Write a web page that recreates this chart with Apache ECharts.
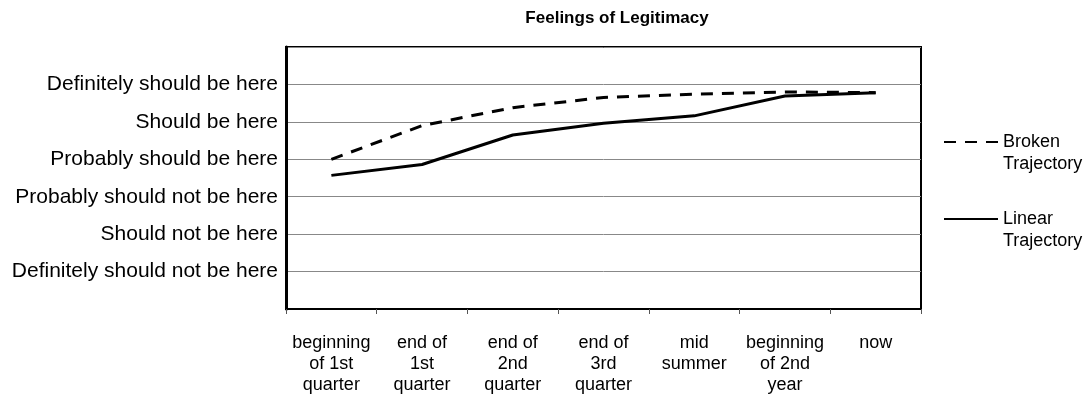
<!DOCTYPE html>
<html>
<head>
<meta charset="utf-8">
<script src="https://cdn.jsdelivr.net/npm/echarts@6/dist/echarts.min.js"></script>
<style>
  html, body { margin: 0; padding: 0; background: #fff; }
  #main { width: 1092px; height: 404px; }
</style>
</head>
<body>
<div id="main"></div>
<script>
// 类目（时间点）
var categories = ['beginning\nof 1st\nquarter', 'end of\n1st\nquarter', 'end of\n2nd\nquarter',
  'end of\n3rd\nquarter', 'mid\nsummer', 'beginning\nof 2nd\nyear', 'now'];
// y 轴刻度文字（1..6）
var levelLabels = ['', 'Definitely should not be here', 'Should not be here', 'Probably should not be here',
  'Probably should be here', 'Should be here', 'Definitely should be here', ''];
// 两条曲线的数据
var brokenValues = [4.0, 4.9, 5.38, 5.65, 5.74, 5.8, 5.78];
var linearValues = [3.57, 3.86, 4.65, 4.96, 5.16, 5.69, 5.78];

var chart = echarts.init(document.getElementById('main'), null, { renderer: 'canvas' });
var font = 'Liberation Sans, Arial, sans-serif';

var option = {
  backgroundColor: '#fff',
  animation: false,
  title: {
    text: 'Feelings of Legitimacy',
    left: 612,
    textAlign: 'center',
    top: 5,
    textStyle: { fontFamily: font, fontSize: 17, fontWeight: 'bold', color: '#000' }
  },
  legend: {
    orient: 'vertical',
    left: 938,
    top: 104,
    itemWidth: 54,
    itemHeight: 14,
    itemGap: 11,
    data: ['Broken', 'Linear'],
    itemStyle: { opacity: 0 },
    // 空的第一行让文字第一行与图例线对齐
    formatter: function (name) { return ' \n' + name + '\nTrajectory'; },
    textStyle: { fontFamily: font, fontSize: 18, lineHeight: 22, color: '#000' }
  },
  grid: {
    left: 286, right: 171, top: 47, bottom: 95,
    show: true, borderColor: '#000', borderWidth: 2
  },
  xAxis: {
    type: 'category',
    data: categories,
    axisLine: { show: true, lineStyle: { color: '#000', width: 2 } },
    axisTick: { show: true, length: 5, lineStyle: { color: '#555' } },
    axisLabel: { fontFamily: font, fontSize: 18, lineHeight: 21, color: '#000', margin: 24, interval: 0 }
  },
  yAxis: {
    type: 'value',
    min: 0, max: 7, interval: 1,
    axisLine: { show: true, lineStyle: { color: '#000', width: 3 } },
    axisTick: { show: false },
    splitLine: { show: true, lineStyle: { color: '#888', width: 1 } },
    axisLabel: {
      fontFamily: font, fontSize: 21, color: '#000', margin: 8,
      formatter: function (v) { return levelLabels[v] || ''; }
    }
  },
  series: [
    {
      name: 'Broken', type: 'line', data: brokenValues, symbol: 'none',
      lineStyle: { color: '#000', width: 3, type: [12, 9] }, itemStyle: { color: '#000' }
    },
    {
      name: 'Linear', type: 'line', data: linearValues, symbol: 'none',
      lineStyle: { color: '#000', width: 3 }, itemStyle: { color: '#000' }
    }
  ]
};
chart.setOption(option);
</script>
</body>
</html>
